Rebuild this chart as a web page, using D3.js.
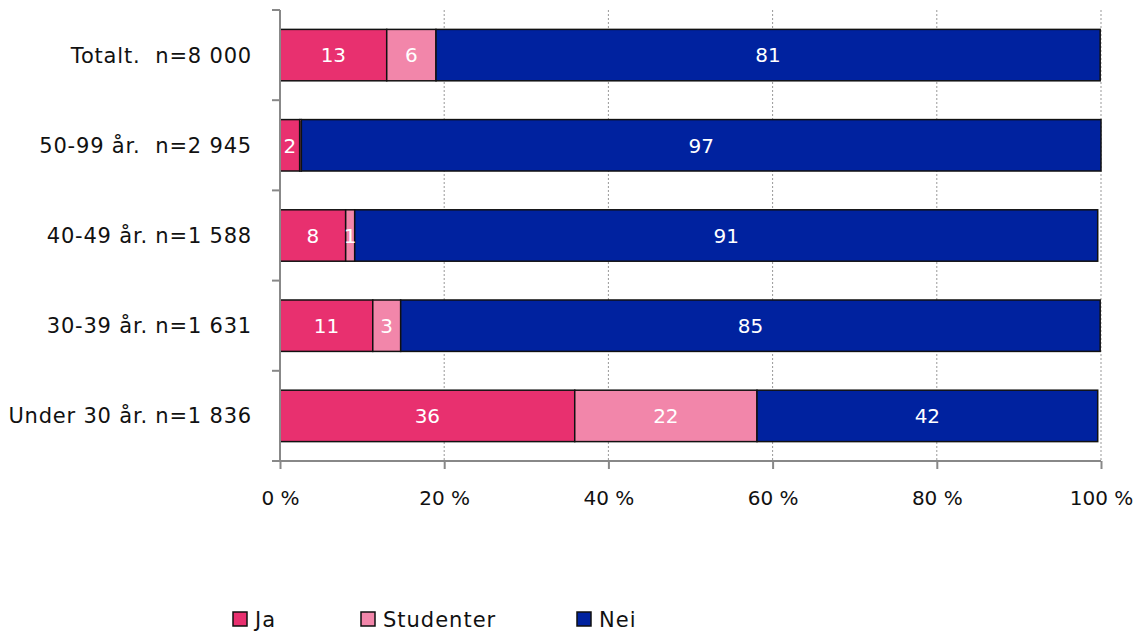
<!DOCTYPE html>
<html><head><meta charset="utf-8">
<script src="https://cdn.jsdelivr.net/npm/d3@7"></script>
<style>body{margin:0;background:#fff}svg{display:block}text{font-family:"DejaVu Sans",sans-serif;white-space:pre}</style>
</head><body><svg id="c" width="1136" height="631"></svg>
<script>
const categories = ["Totalt.  n=8 000","50-99 år.  n=2 945","40-49 år. n=1 588","30-39 år. n=1 631","Under 30 år. n=1 836"];
const seriesNames = ["Ja","Studenter","Nei"];
const ja = [13.0, 2.4, 8.0, 11.3, 35.9];
const studenter = [6.0, 0.2, 1.1, 3.4, 22.2];
const nei = [80.9, 97.4, 90.5, 85.2, 41.5];
const colors = ["#E8306F","#F286AA","#00229F"];
const tickValues = [0,20,40,60,80,100];

const svg = d3.select("#c");
const FONT = "'DejaVu Sans',sans-serif";
const x = d3.scaleLinear().domain([0,100]).range([280,1101]);
const y = d3.scaleBand().domain(categories).range([10,461]).paddingInner(0.43).paddingOuter(0.215);

svg.append("g").selectAll("line").data(tickValues.slice(1)).join("line")
  .attr("x1",d=>x(d)).attr("x2",d=>x(d)).attr("y1",10).attr("y2",461)
  .attr("stroke","#999").attr("stroke-width",1).attr("stroke-dasharray","2,2");

const rows = categories.map((c,i)=>({cat:c, vals:[ja[i],studenter[i],nei[i]]}));
const segs = [];
rows.forEach(r=>{let s=0; r.vals.forEach((v,k)=>{segs.push({cat:r.cat,k,v,x0:s,x1:s+v}); s+=v;});});

const g = svg.append("g");
g.selectAll("rect").data(segs).join("rect")
  .attr("x",d=>x(d.x0)).attr("width",d=>x(d.x1)-x(d.x0))
  .attr("y",d=>y(d.cat)).attr("height",y.bandwidth())
  .attr("fill",d=>colors[d.k]).attr("stroke","#111").attr("stroke-width",1.5);
g.selectAll("text").data(segs.filter(d=>Math.round(d.v)>=1)).join("text")
  .attr("x",d=>x((d.x0+d.x1)/2)).attr("y",d=>y(d.cat)+y.bandwidth()/2)
  .attr("dy","0.36em").attr("text-anchor","middle").attr("fill","#fff")
  .attr("font-size",20).text(d=>Math.round(d.v));

const yAxis = svg.append("g").attr("transform","translate(280,0)");
yAxis.append("line").attr("x1",0).attr("x2",0).attr("y1",10).attr("y2",462).attr("stroke","#888").attr("stroke-width",2);
const bounds = d3.range(6).map(i=>10+i*90.2);
yAxis.selectAll("line.t").data(bounds).join("line").attr("class","t")
  .attr("x1",-8).attr("x2",0).attr("y1",d=>d).attr("y2",d=>d).attr("stroke","#888").attr("stroke-width",2);
yAxis.selectAll("text").data(categories).join("text")
  .attr("x",-28).attr("y",d=>y(d)+y.bandwidth()/2).attr("dy","0.36em")
  .attr("text-anchor","end").attr("font-size",21).attr("letter-spacing",0.8).attr("fill","#111").text(d=>d);

const xAxis = svg.append("g").attr("transform","translate(0,461)")
  .call(d3.axisBottom(x).tickValues(tickValues).tickSize(8).tickPadding(22).tickFormat(d=>d+" %"));
xAxis.select(".domain").attr("stroke","#888").attr("stroke-width",2).attr("d","M272,0H1101");
xAxis.selectAll(".tick line").attr("stroke","#888").attr("stroke-width",2);
xAxis.selectAll(".tick text").attr("font-size",20).attr("fill","#111").attr("font-family",FONT);

const legX = [233,361,577];
const leg = svg.append("g").selectAll("g").data(seriesNames).join("g")
  .attr("transform",(d,i)=>`translate(${legX[i]},612)`);
leg.append("rect").attr("width",14).attr("height",14).attr("fill",(d,i)=>colors[i]).attr("stroke","#111").attr("stroke-width",1.5);
leg.append("text").attr("x",22).attr("y",7).attr("dy","0.36em").attr("font-size",21).attr("letter-spacing",1).attr("fill","#111").text(d=>d);
</script></body></html>
